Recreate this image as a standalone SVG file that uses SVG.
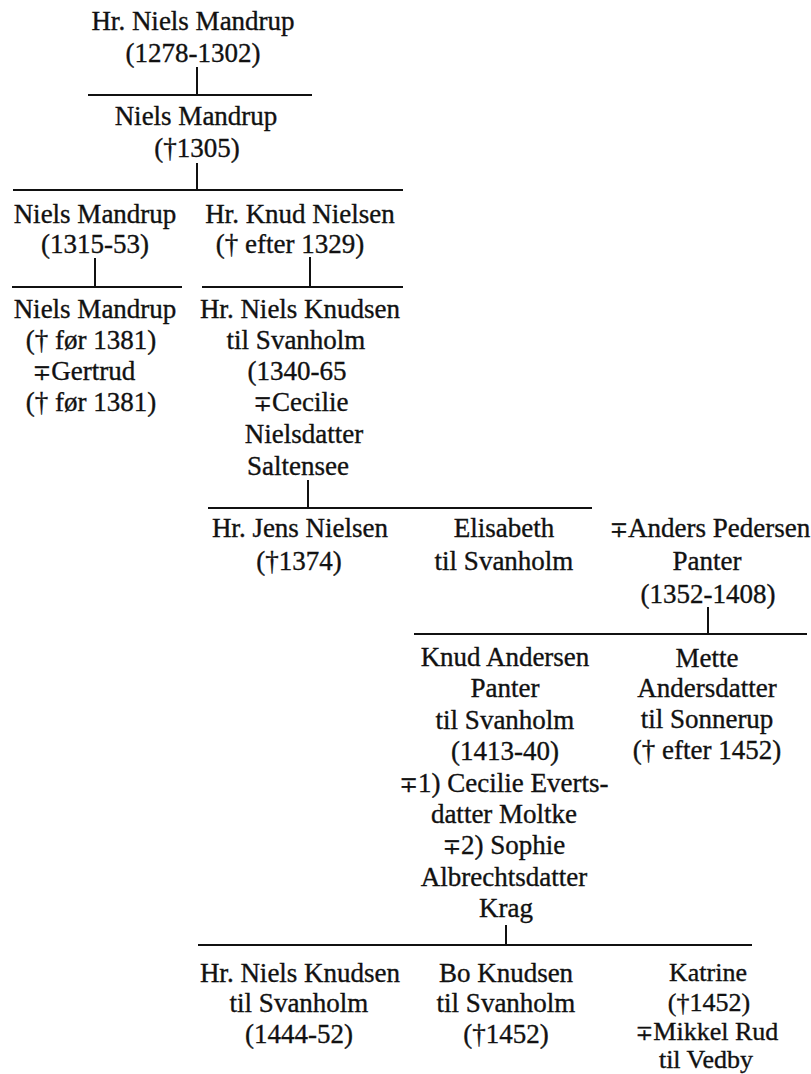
<svg xmlns="http://www.w3.org/2000/svg" width="811" height="1074" viewBox="0 0 811 1074">
<style>
  text { font-family: "Liberation Serif", "Times New Roman", serif; font-size: 27px; fill: #111; stroke: #111; stroke-width: 0.35; text-anchor: middle; }
  .m { font-family: "DejaVu Serif", "Liberation Serif", serif; font-size: 22px; }
  #n14 text { font-size: 26px; }
  #n14 .m { font-size: 21px; }
  .c line { stroke: #111; stroke-width: 2; }
</style>
<rect width="811" height="1074" fill="#fff"/>
<g id="connectors" class="c">
  <line x1="197" y1="67" x2="197" y2="95"/>
  <line x1="88" y1="95" x2="312" y2="95"/>
  <line x1="197" y1="163" x2="197" y2="190"/>
  <line x1="13" y1="190" x2="403" y2="190"/>
  <line x1="95" y1="258" x2="95" y2="287"/>
  <line x1="12" y1="287" x2="182" y2="287"/>
  <line x1="310" y1="257" x2="310" y2="287"/>
  <line x1="202" y1="287" x2="403" y2="287"/>
  <line x1="308" y1="480" x2="308" y2="508"/>
  <line x1="208" y1="508" x2="592" y2="508"/>
  <line x1="708" y1="607" x2="708" y2="634"/>
  <line x1="414" y1="634" x2="807" y2="634"/>
  <line x1="506" y1="925" x2="506" y2="945"/>
  <line x1="198" y1="945" x2="752" y2="945"/>
</g>
<g id="n1"><text x="193" y="30">Hr. Niels Mandrup</text><text x="193" y="62">(1278-1302)</text></g>
<g id="n2"><text x="196" y="125">Niels Mandrup</text><text x="197" y="157">(†1305)</text></g>
<g id="n3"><text x="95" y="223">Niels Mandrup</text><text x="95" y="253">(1315-53)</text></g>
<g id="n4"><text x="300" y="223">Hr. Knud Nielsen</text><text x="290" y="253">(† efter 1329)</text></g>
<g id="n5"><text x="95" y="318">Niels Mandrup</text><text x="91" y="349">(† før 1381)</text><text x="84" y="380"><tspan class="m">∓</tspan>Gertrud</text><text x="91" y="411">(† før 1381)</text></g>
<g id="n6"><text x="300" y="318">Hr. Niels Knudsen</text><text x="296" y="349">til Svanholm</text><text x="297" y="380">(1340-65</text><text x="301" y="411"><tspan class="m">∓</tspan>Cecilie</text><text x="304" y="443">Nielsdatter</text><text x="298" y="475">Saltensee</text></g>
<g id="n7"><text x="300" y="537">Hr. Jens Nielsen</text><text x="299" y="570">(†1374)</text></g>
<g id="n8"><text x="504" y="537">Elisabeth</text><text x="504" y="570">til Svanholm</text></g>
<g id="n9"><text x="710" y="537"><tspan class="m">∓</tspan>Anders Pedersen</text><text x="707" y="570">Panter</text><text x="708" y="603">(1352-1408)</text></g>
<g id="n10"><text x="505" y="666">Knud Andersen</text><text x="505" y="697.4">Panter</text><text x="505" y="728.8">til Svanholm</text><text x="505" y="760.2">(1413-40)</text><text x="504" y="791.6"><tspan class="m">∓</tspan>1) Cecilie Everts-</text><text x="504" y="823">datter Moltke</text><text x="504" y="854.4"><tspan class="m">∓</tspan>2) Sophie</text><text x="504" y="885.8">Albrechtsdatter</text><text x="506" y="917.2">Krag</text></g>
<g id="n11"><text x="707" y="667">Mette</text><text x="707" y="696.5">Andersdatter</text><text x="707" y="728">til Sonnerup</text><text x="707" y="759">(† efter 1452)</text></g>
<g id="n12"><text x="300" y="982">Hr. Niels Knudsen</text><text x="299" y="1012">til Svanholm</text><text x="299" y="1043">(1444-52)</text></g>
<g id="n13"><text x="506" y="982">Bo Knudsen</text><text x="506" y="1012">til Svanholm</text><text x="506" y="1043">(†1452)</text></g>
<g id="n14"><text x="708" y="981">Katrine</text><text x="709" y="1010.5">(†1452)</text><text x="707" y="1040"><tspan class="m">∓</tspan>Mikkel Rud</text><text x="706" y="1068">til Vedby</text></g>
</svg>
